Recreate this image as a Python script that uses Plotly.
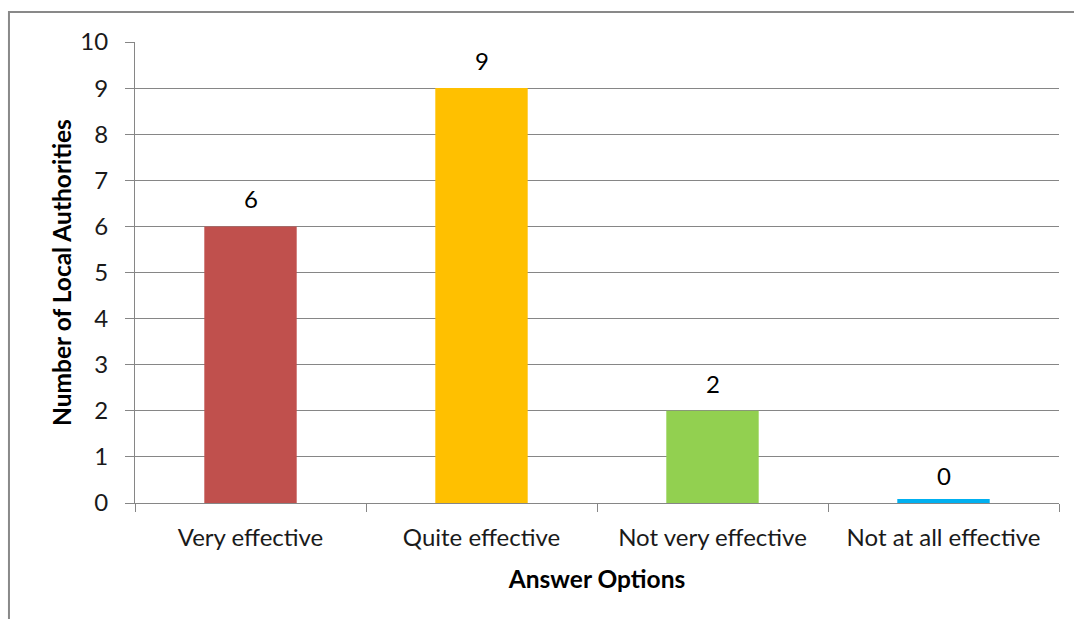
import plotly.graph_objects as go

# Survey responses
answer_options = ["Very effective", "Quite effective", "Not very effective", "Not at all effective"]
authority_counts = [6, 9, 2, 0]
bar_colors = ["#C0504D", "#FFC000", "#92D050", "#00B0F0"]

FONT = "Lato, 'Open Sans', sans-serif"
TEXT = "#000000"
GRID = "#868686"

fig = go.Figure()
fig.add_trace(go.Bar(
    x=answer_options,
    y=authority_counts,
    marker=dict(color=bar_colors, line=dict(color=bar_colors, width=[0, 0, 0, 8])),
    cliponaxis=True,
    hoverinfo="x+y",
))

# value labels above each bar
for cat, val in zip(answer_options, authority_counts):
    fig.add_annotation(
        x=cat, y=val, text=str(val), showarrow=False,
        yanchor="bottom", yshift=11,
        font=dict(family=FONT, size=24, color=TEXT),
    )

fig.update_layout(
    width=1074,
    height=619,
    margin=dict(l=135, r=15, t=42, b=116),
    paper_bgcolor="white",
    plot_bgcolor="white",
    bargap=0.6,
    showlegend=False,
    font=dict(family=FONT, size=24, color=TEXT),
    shapes=[dict(
        type="rect", xref="paper", yref="paper",
        x0=-0.1364, x1=1.03, y0=-0.28, y1=1.0651,
        line=dict(color="#898989", width=2),
        fillcolor="rgba(0,0,0,0)", layer="below",
    )],
)

fig.update_xaxes(
    title=dict(text="<b>Answer Options</b>", font=dict(family=FONT, size=24.5, color=TEXT), standoff=21),
    tickfont=dict(family=FONT, size=24, color="#1a1a1a"),
    showline=True, linecolor=GRID, linewidth=1,
    ticks="outside", ticklen=8, tickcolor=GRID, tickson="boundaries",
    ticklabelstandoff=13,
    showgrid=False,
)
fig.update_yaxes(
    title=dict(text="<b>Number of Local Authorities</b>", font=dict(family=FONT, size=24.5, color=TEXT), standoff=1),
    tickfont=dict(family=FONT, size=24, color="#1a1a1a"),
    range=[0, 10], dtick=1,
    showline=True, linecolor=GRID, linewidth=1,
    ticks="outside", ticklen=9, tickcolor=GRID,
    ticklabelstandoff=12,
    showgrid=True, gridcolor=GRID, gridwidth=1,
    zeroline=False,
)

fig.write_html("out.html")
